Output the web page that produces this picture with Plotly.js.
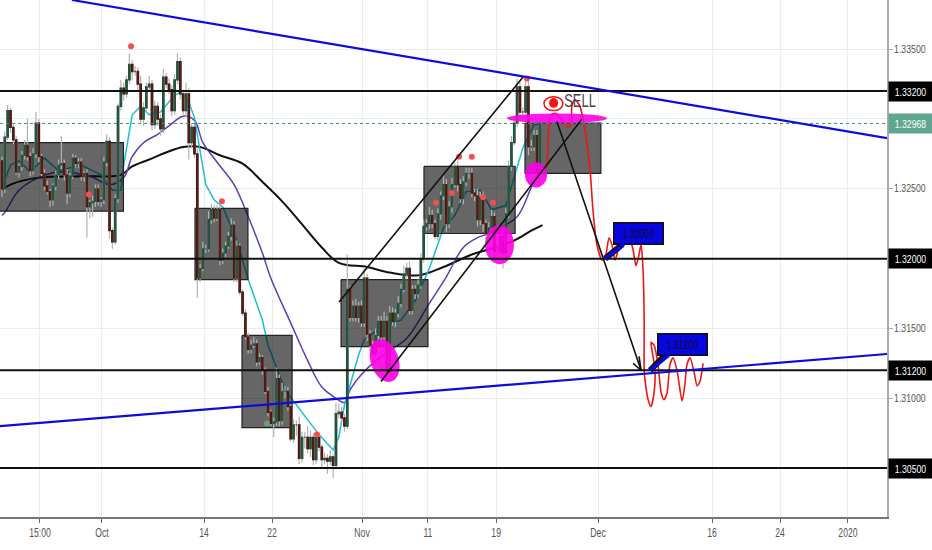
<!DOCTYPE html>
<html><head><meta charset="utf-8">
<script src="https://cdn.plot.ly/plotly-3.0.1.min.js"></script>
<style>html,body{margin:0;padding:0;background:#fff}#c{width:932px;height:550px}</style>
</head><body><div id="c"></div>
<script>
// Prices are in units of 0.0001 (13320 = 1.33200). X is the 6-hour bar number.
const closes=[13250,13287,13306,13294,13285,13262,13266,13274,13281,13273,
13263,13275,13297,13273,13261,13252,13248,13242,13252,13260,
13267,13268,13260,13247,13259,13272,13268,13269,13259,13261,
13237,13240,13241,13250,13241,13242,13269,13284,13220,13212,
13243,13309,13322,13318,13328,13339,13334,13334,13325,13300,
13308,13323,13325,13296,13309,13300,13293,13330,13325,13321,
13306,13328,13341,13318,13306,13318,13283,13294,13275,13186,
13193,13207,13207,13228,13235,13229,13235,13199,13204,13209,
13216,13224,13186,13209,13176,13161,13144,13135,13138,13139,
13126,13129,13120,13105,13090,13082,13083,13114,13084,13105,
13105,13094,13071,13081,13081,13057,13072,13072,13064,13072,
13056,13072,13065,13056,13057,13055,13058,13052,13089,13090,
13086,13080,13178,13158,13166,13158,13166,13154,13186,13146,
13138,13132,13145,13155,13144,13155,13119,13161,13155,13161,
13168,13178,13189,13193,13163,13178,13175,13181,13200,13223,
13225,13231,13225,13216,13232,13245,13253,13225,13237,13253,
13266,13253,13243,13255,13261,13261,13247,13245,13228,13244,
13225,13218,13222,13230,13205,13205,13216,13204,13232,13266,
13283,13297,13323,13305,13305,13323,13280,13280,13288,13261,13297];
const upperWick=[3,4,4,2,3,3,2,3,4,19,3,4,8,3,2,3,4,2,2,3,4,20,3,4,3,3,2,3,3,2,
3,2,4,3,3,2,4,5,3,2,3,2,6,4,3,8,3,4,3,6,4,3,6,3,4,3,3,6,3,4,
3,4,6,3,3,8,4,3,3,5,3,5,3,6,4,3,3,4,3,3,3,5,3,4,2,2,3,3,4,5,
3,3,2,2,3,2,3,8,3,6,4,3,2,4,3,6,4,4,8,5,3,5,3,2,4,3,5,2,8,6,
4,3,25,3,4,5,3,4,8,3,3,3,5,4,4,7,4,5,4,3,5,4,6,4,5,3,3,4,4,5,
3,6,4,3,4,3,6,4,4,5,3,4,4,4,4,4,4,3,5,4,4,3,4,5,3,5,4,3,4,4,
5,4,6,4,3,6,4,5,4,4,3];
const lowerWick=[6,3,2,4,3,2,4,3,3,3,4,3,3,4,2,3,2,5,4,3,3,3,4,8,3,2,3,3,3,4,
22,8,10,4,3,4,3,3,6,5,2,3,3,5,3,3,6,3,4,3,5,3,3,4,3,5,5,3,3,3,
4,3,3,4,3,5,12,4,3,14,3,2,3,2,3,3,2,4,3,3,2,3,3,3,2,2,2,3,3,2,
3,2,3,2,3,2,10,3,4,3,5,3,2,3,8,4,3,8,3,6,4,3,3,6,3,9,3,9,3,3,
3,4,2,3,3,3,4,3,3,5,4,8,3,3,4,3,5,3,3,4,3,3,2,4,3,3,4,3,3,3,
3,4,3,2,3,4,3,6,3,4,2,5,3,4,3,4,3,4,5,4,6,5,3,3,5,5,3,11,4,3,
3,2,3,5,6,3,6,3,3,6,4];

const cyanBar=[0,3,6,10,15,20,28,35,39,42,43,46,49,52,56,58,61,63,66,68,70,72,75,78,83,87,92,94,100,105,112,117,119,121,123,126,128,135,141,146,151,154,156,160,164,169,173,178,181,184,188,190];
const cyanVal=[13251,13267,13270,13262,13272,13263,13267,13260,13249,13249,13267,13303,13309,13303,13305,13310,13317,13319,13312,13301,13278,13253,13242,13237,13213,13185,13156,13138,13106,13093,13074,13063,13072,13095,13109,13131,13142,13152,13156,13170,13193,13210,13222,13231,13248,13249,13235,13238,13258,13279,13296,13296];
const purpleBar=[0,1,6,13,20,31,38,43,46,50,55,59,64,68,71,76,82,87,92,95,102,108,113,118,121,123,127,131,137,143,151,157,163,168,172,182,187,190];
const purpleVal=[13231,13233,13249,13258,13262,13259,13253,13258,13273,13283,13289,13295,13302,13299,13283,13269,13253,13230,13204,13186,13154,13127,13108,13100,13097,13106,13117,13125,13134,13143,13168,13187,13208,13215,13218,13230,13251,13263];
const blackBar=[0,3,13,28,42,46,52,58,64,70,77,85,92,99,105,113,119,129,137,147,156,166,171,181,187,191];
const blackVal=[13249,13253,13258,13259,13260,13266,13271,13276,13280,13280,13274,13268,13255,13241,13227,13208,13197,13194,13190,13188,13194,13203,13206,13213,13220,13224];

const rectLeft=[-1,68.2,84.8,119.8,149.1,184.8];
const rectRight=[42.9,86.9,102.5,150.5,181.3,211.6];
const rectTop=[13283,13236,13145,13185,13266,13297];
const rectBottom=[13234,13185,13079,13137,13218,13261];

const levels=[13320,13200,13120,13050];
const currentPrice=13296.8;
const blueLines=[[24.7,13385.2,312.7,13286.3],[-0.7,13080,312.7,13131.7]];
const blackLines=[[119.1,13169,184.1,13330],[133.9,13112,204.9,13300],[196.1,13298,225.8,13120],[223,13125,225.8,13120],[225.1,13130,225.8,13120]];
const calloutTails=[[213.1,13200,219.1,13210],[229,13120,234.3,13131]];
const blobs=[[175.8,13210,14,5.1],[188.7,13260,9,3.9],[196.1,13300.5,3.5,17.7]];
const tiltedBlob={bar:135.2,val:13127,long:22,short:14,tilt:18};

const redBar=[192.6,193.3,194,195.8,197.9,200,201.1,201.4,202.5,204.2,206,207.8,208.8,210.2,212,212.7,213.4,214.5,215.5,216.6,217.7,219.1,221.9,223,224,225.1,225.8,226.5,226.9,226.9,227.2,228.3,229.3,230.4,230.7,229.7,229.3,230.4,231.8,232.9,233.9,235,236,237.1,238.5,240.3,241.3,242,243.1,244.5,245.6,246.6,247.7];
const redVal=[13265,13296,13303,13304,13299,13294,13296,13310,13314,13309,13292,13263,13235,13210,13199,13200,13203,13215,13210,13199,13206,13213,13213,13206,13195,13203,13210,13192,13156,13120,13113,13099,13094,13104,13120,13134,13140,13138,13124,13104,13099,13104,13124,13129,13120,13098,13110,13124,13129,13119,13109,13112,13125];

const dotBar=[45.6,30.7,77.7,111.3,153.4,159,161.5,166,170,173.5,185.5];
const dotVal=[13352,13246,13241,13074,13240,13247,13273,13273,13244,13240,13329];

const xTickBars=[13.4,35.3,71.4,95.4,127.2,150.5,174.6,210.6,250.9,274.9,298.9];
const xTickLabels=['15:00','Oct','14','22','Nov','11','19','Dec','16','24','2020'];
const yTicks=[13350,13300,13250,13200,13150,13100,13050];
const yTicksCovered=[13300,13200,13050];
const callouts=[{bar:213.1,val:13200,text:'1.32000',ax:33,ay:-25},{bar:229,val:13120,text:'1.31200',ax:32,ay:-26}];

const P=v=>v/10000;
const font='"Liberation Sans",Arial,sans-serif';
const xr=[-0.707,312.7], yr=[P(13014.98),P(13385.2)];
const bars=closes.map((_,i)=>i);
const opens=closes.map((c,i)=>i?closes[i-1]:13270);
const bodyHi=closes.map((c,i)=>Math.max(c,opens[i]));
const bodyLo=closes.map((c,i)=>Math.min(c,opens[i]));

const rx=[],ry=[];
rectLeft.forEach((l,i)=>{rx.push(l,rectRight[i],rectRight[i],l,l,null);
  ry.push(P(rectTop[i]),P(rectTop[i]),P(rectBottom[i]),P(rectBottom[i]),P(rectTop[i]),null);});

const gray={line:{color:'#b2b2b2',width:1.2},fillcolor:'#b2b2b2'};
const traces=[
 {type:'scatter',mode:'lines',x:blackBar,y:blackVal.map(P),line:{color:'#111',width:2,shape:'spline'},hoverinfo:'skip'},
 {type:'scatter',mode:'lines',x:purpleBar,y:purpleVal.map(P),line:{color:'#5b3fb5',width:1.5,shape:'spline'},hoverinfo:'skip'},
 {type:'scatter',mode:'lines',x:cyanBar,y:cyanVal.map(P),line:{color:'#1cc0d0',width:1.5},hoverinfo:'skip'},
 {type:'scatter',mode:'lines',x:rx,y:ry,fill:'toself',fillcolor:'rgba(0,0,0,0.6)',line:{color:'#222',width:1.2},hoverinfo:'skip'},
 {type:'candlestick',xaxis:'x2',yaxis:'y2',x:bars,open:opens.map(P),close:closes.map(P),
  high:bodyHi.map((h,i)=>P(h+upperWick[i])),low:bodyLo.map((l,i)=>P(l-lowerWick[i])),
  increasing:gray,decreasing:gray,whiskerwidth:0,hoverinfo:'skip'},
 {type:'candlestick',xaxis:'x2',yaxis:'y2',x:bars,open:opens.map(P),close:closes.map(P),
  high:bodyHi.map(P),low:bodyLo.map(P),
  increasing:{line:{color:'#24503c',width:1.3},fillcolor:'#3f9068'},
  decreasing:{line:{color:'#4a1a12',width:1.3},fillcolor:'#c03a22'},whiskerwidth:0,hoverinfo:'skip'},
 {type:'scatter',mode:'lines',xaxis:'x2',yaxis:'y2',x:redBar,y:redVal.map(P),line:{color:'#f01515',width:1.6,shape:'spline',smoothing:0.7},hoverinfo:'skip'},
 {type:'scatter',mode:'markers',xaxis:'x2',yaxis:'y2',x:dotBar,y:dotVal.map(P),marker:{color:'#f25050',size:6},hoverinfo:'skip'},
 {type:'scatter',mode:'markers',xaxis:'x2',yaxis:'y2',x:[93.6],y:[P(13082)],marker:{color:'#6f9a80',size:6},hoverinfo:'skip'}
];

const shapes=[];
blobs.forEach(b=>shapes.push({type:'circle',xref:'x',yref:'y',x0:b[0]-b[3],x1:b[0]+b[3],y0:P(b[1]-b[2]),y1:P(b[1]+b[2]),
  fillcolor:'#ff00e6',opacity:0.9,line:{width:0}}));
{
  const pxBar=2.83, pxVal=1.396, th=tiltedBlob.tilt*Math.PI/180; let d='';
  for(let k=0;k<40;k++){const a=k/40*2*Math.PI, u=tiltedBlob.short*Math.cos(a), w=tiltedBlob.long*Math.sin(a);
    const dx=u*Math.cos(th)+w*Math.sin(th), dy=-u*Math.sin(th)+w*Math.cos(th);
    d+=(k?'L':'M')+(tiltedBlob.bar+dx/pxBar)+','+P(tiltedBlob.val-dy/pxVal);}
  shapes.push({type:'path',xref:'x',yref:'y',path:d+'Z',fillcolor:'#ff00e6',opacity:0.9,line:{width:0}});
}
levels.forEach(v=>shapes.push({type:'line',xref:'paper',yref:'y',x0:0,x1:1,y0:P(v),y1:P(v),line:{color:'#111',width:2}}));
shapes.push({type:'line',xref:'paper',yref:'y',x0:0,x1:1,y0:P(currentPrice),y1:P(currentPrice),line:{color:'#3d8f7c',width:1,dash:'dot'}});
blueLines.forEach(l=>shapes.push({type:'line',xref:'x',yref:'y',x0:l[0],y0:P(l[1]),x1:l[2],y1:P(l[3]),line:{color:'#0c0ce0',width:2.2}}));
blackLines.forEach(l=>shapes.push({type:'line',xref:'x',yref:'y',x0:l[0],y0:P(l[1]),x1:l[2],y1:P(l[3]),line:{color:'#111',width:1.6}}));
calloutTails.forEach(l=>shapes.push({type:'line',xref:'x',yref:'y',x0:l[0],y0:P(l[1]),x1:l[2],y1:P(l[3]),line:{color:'#111',width:6}}));
shapes.push({type:'circle',xref:'x',yref:'y',x0:191.5,x1:198.2,y0:P(13316),y1:P(13306),line:{color:'#f01515',width:1.5}});
shapes.push({type:'circle',xref:'x',yref:'y',x0:193.3,x1:196.5,y0:P(13315),y1:P(13308),fillcolor:'#f01515',line:{width:0}});

const tag=(v,txt,bg)=>({xref:'paper',yref:'y',x:1,y:P(v),xanchor:'left',yanchor:'middle',xshift:1,showarrow:false,
  text:txt,bgcolor:bg,width:43,height:19,borderpad:0,font:{family:font,size:10.5,color:'#ffffff'}});
const annotations=[
 tag(13320,'1.33200','#000000'),tag(13200,'1.32000','#000000'),tag(13120,'1.31200','#000000'),tag(13050,'1.30500','#000000'),
 tag(currentPrice,'1.32968','#5ea68f'),
 {xref:'x',yref:'y',x:204.2,y:P(13313),showarrow:false,text:'SELL',font:{family:font,size:18,color:'#444'}}
];
callouts.forEach(c=>annotations.push({xref:'x',yref:'y',x:c.bar,y:P(c.val),text:c.text,showarrow:true,arrowhead:0,arrowwidth:3.5,arrowcolor:'#0606e0',
  ax:c.ax,ay:c.ay,bgcolor:'#0606e0',bordercolor:'#111',borderwidth:1.5,borderpad:0,width:48,height:20,font:{family:font,size:12,color:'#111'}}));

const layout={
 width:932,height:550,margin:{l:0,r:45,t:0,b:33,pad:0},paper_bgcolor:'#fff',plot_bgcolor:'#fff',showlegend:false,
 xaxis:{type:'linear',range:xr,tickmode:'array',tickvals:xTickBars,ticktext:xTickLabels,showgrid:true,gridcolor:'#ececec',gridwidth:1,zeroline:false,
   ticks:'outside',ticklen:4,tickcolor:'#666',showline:true,linecolor:'#777',linewidth:1.5,rangeslider:{visible:false},
   tickfont:{family:font,size:12,color:'#555'},fixedrange:true},
 yaxis:{type:'linear',range:yr,side:'right',tickmode:'array',tickvals:yTicks.map(P),
   ticktext:yTicks.map(v=>yTicksCovered.includes(v)?'':P(v).toFixed(5)),showgrid:true,gridcolor:'#ececec',gridwidth:1,zeroline:false,
   ticks:'outside',ticklen:4,tickcolor:'#aaa',showline:true,linecolor:'#aaa',linewidth:2,ticklabelstandoff:-1,
   tickfont:{family:font,size:10.5,color:'#555'},fixedrange:true},
 xaxis2:{type:'linear',overlaying:'x',range:xr,visible:false,rangeslider:{visible:false},fixedrange:true},
 yaxis2:{type:'linear',overlaying:'y',side:'right',range:yr,visible:false,fixedrange:true},
 shapes,annotations
};
Plotly.newPlot('c',traces,layout,{displayModeBar:false,staticPlot:true}).then(gd=>{
  // The reference's text is horizontally squeezed: condense the real text to match.
  gd.querySelectorAll('.xtick text,.ytick text,.annotation-text').forEach(t=>{
    const len=t.getComputedTextLength();
    const k=parseFloat(getComputedStyle(t).fontSize)<11?0.83:0.72;
    if(len>0){t.setAttribute('textLength',(len*k).toFixed(1));t.setAttribute('lengthAdjust','spacingAndGlyphs');}
  });
});
</script></body></html>
